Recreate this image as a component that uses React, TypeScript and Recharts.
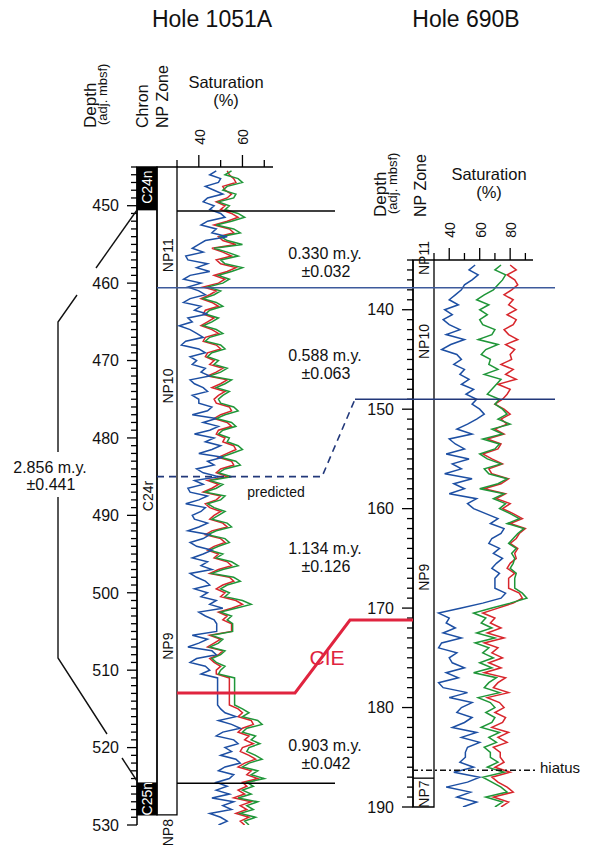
import React from "react";
import { LineChart, Line, XAxis, YAxis, ReferenceArea, ReferenceLine } from "recharts";

const FONT = "'Liberation Sans', Arial, Helvetica, sans-serif";
const BLUE = "#1d4fa3";
const GREEN = "#1f9638";
const RED = "#d8262c";

// Hole 1051A saturation (%), one sample every 0.5 m from 445.5 to 530 mbsf
const L_DEPTH_START = 445.5;
const L_STEP = 0.5;
const L_BLUE = [
  48, 45, 50, 49, 43, 47, 51, 44, 42, 47,
  45, 50, 52, 44, 41, 48, 46, 53, 43, 40,
  37, 42, 34, 35, 44, 39, 45, 36, 33, 41,
  35, 40, 43, 36, 33, 41, 38, 44, 35, 37,
  31, 36, 39, 42, 34, 32, 40, 43, 36, 39,
  37, 43, 41, 45, 36, 38, 42, 44, 37, 40,
  40, 46, 44, 37, 48, 42, 49, 45, 38, 47,
  43, 50, 46, 40, 51, 44, 47, 39, 42, 49,
  38, 42, 35, 36, 44, 40, 34, 43, 41, 37,
  38, 44, 40, 35, 45, 42, 36, 39, 46, 42,
  37, 44, 41, 46, 36, 39, 43, 45, 38, 44,
  41, 48, 45, 51, 40, 43, 47, 48.2, 48.2, 48.2,
  37, 44, 40, 35, 46, 48, 39, 36, 43, 45,
  41, 48.6, 48.6, 48.6, 48.6, 48.6, 48.6, 48.6, 48.6, 50,
  52, 57, 49, 55, 59, 51, 48, 56, 58, 52,
  55, 50, 57, 59, 52, 49, 56, 54, 48, 53,
  48, 54, 46, 56, 51, 55, 45, 50, 53, 49,
];
const L_GREEN = [
  55, 52, 58, 60, 53, 51, 57, 56, 49, 54,
  52, 58, 61, 55, 48, 56, 59, 50, 53, 60,
  47, 53, 58, 50, 52, 60, 55, 49, 54, 51,
  44, 50, 47, 42, 48, 51, 45, 43, 49, 46,
  42, 48, 51, 45, 43, 50, 52, 46, 44, 49,
  47, 53, 50, 45, 55, 52, 48, 54, 51, 49,
  50, 56, 58, 52, 48, 55, 57, 51, 49, 54,
  53, 58, 60, 55, 50, 57, 59, 52, 49, 55,
  45, 51, 48, 43, 52, 50, 44, 47, 52, 49,
  46, 53, 55, 48, 44, 52, 54, 49, 45, 51,
  48, 55, 58, 51, 46, 56, 59, 53, 50, 54,
  52, 60, 64, 57, 50, 55, 53, 55.5, 55.5, 55.5,
  46, 51, 49, 45, 52, 50, 46, 48, 52, 50,
  49, 56.4, 56.4, 56.4, 56.4, 56.4, 56.4, 56.4, 56.4, 60,
  63, 60, 67, 69, 62, 60, 66, 64, 68, 63,
  62, 66, 69, 63, 60, 67, 64, 70, 62, 65,
  60, 64, 58, 67, 62, 65, 59, 66, 61, 63,
];
const L_RED = [
  53, 54, 56, 57, 51, 52, 55, 53, 48, 52,
  50, 55, 58, 53, 47, 54, 56, 49, 51, 57,
  46, 51, 55, 48, 50, 57, 53, 47, 52, 49,
  42, 48, 45, 41, 46, 49, 43, 42, 47, 44,
  41, 46, 49, 43, 42, 48, 50, 44, 43, 47,
  45, 51, 48, 44, 53, 50, 46, 52, 49, 47,
  48, 54, 55, 50, 47, 53, 55, 49, 48, 52,
  51, 56, 57, 53, 49, 55, 56, 50, 48, 53,
  44, 49, 46, 42, 50, 48, 43, 45, 50, 47,
  45, 51, 53, 46, 43, 50, 52, 47, 44, 49,
  47, 53, 55, 49, 45, 54, 56, 51, 48, 52,
  50, 57, 60, 55, 49, 53, 51, 55, 55, 55,
  45, 50, 47, 44, 51, 49, 45, 47, 50, 48,
  48, 54, 54, 54, 54, 54, 54, 54, 54, 58,
  60, 58, 64, 65, 60, 58, 63, 61, 65, 60,
  59, 63, 66, 61, 58, 64, 62, 67, 60, 62,
  58, 61, 56, 64, 59, 62, 57, 63, 59, 61,
];

// Hole 690B saturation (%), one sample every 0.5 m from 135.5 to 190 mbsf
const R_DEPTH_START = 135.5;
const R_STEP = 0.5;
const R_BLUE = [
  57, 53, 59, 55, 50, 48, 44, 40, 46, 37,
  42, 36, 40, 47, 38, 50, 41, 35, 45, 48,
  43, 50, 47, 53, 48, 56, 51, 58, 55, 60,
  63, 58, 52, 45, 55, 40, 44, 50, 38, 53,
  42, 48, 37, 55, 43, 50, 40, 58, 52, 56,
  64, 72, 67, 76, 74, 68, 66, 73, 69, 75,
  71, 68, 73, 70, 70, 70, 77, 74, 62, 48,
  33, 40, 38, 44, 36, 48, 35, 33, 45, 40,
  42, 50, 38, 46, 33, 36, 52, 40, 55, 48,
  45, 55, 50, 42, 58, 48, 60, 52, 50.6, 50.6,
  47, 56, 43, 60, 52, 38, 54, 45, 58, 49,
];
const R_GREEN = [
  74, 70, 77, 75, 72, 69, 63, 58, 66, 60,
  65, 60, 62, 70, 68, 59, 72, 64, 61, 67,
  66, 72, 63, 74, 71, 68, 65, 73, 70, 75,
  78, 72, 80, 68, 75, 62, 73, 70, 60, 65,
  74, 63, 66, 78, 72, 60, 76, 69, 77, 73,
  80, 86, 78, 89, 85, 82, 79, 84, 81, 83,
  82, 80, 84, 83, 83, 83, 88, 91, 80, 68,
  56, 64, 61, 68, 58, 70, 57, 66, 62, 69,
  60, 68, 56, 71, 66, 63, 73, 59, 67, 70,
  64, 70, 68, 61, 73, 66, 71, 63, 67, 67,
  72, 65, 76, 62, 68, 74, 78, 64, 75, 70,
];
const R_RED = [
  80, 84, 78, 83, 85, 81, 76, 82, 79, 84,
  78, 84, 82, 76, 79, 85, 77, 83, 80, 81,
  74, 82, 77, 84, 72, 80, 78, 75, 70, 76,
  80, 74, 78, 70, 76, 65, 74, 72, 62, 68,
  75, 66, 68, 79, 74, 63, 77, 71, 80, 75,
  82, 88, 80, 90, 86, 84, 80, 85, 83, 84,
  80, 78, 83, 79, 79, 79, 86, 88, 82, 72,
  62, 70, 67, 74, 65, 76, 63, 72, 68, 75,
  66, 74, 63, 77, 72, 69, 79, 65, 73, 76,
  70, 77, 75, 68, 79, 72, 78, 69, 73.5, 73.5,
  76, 70, 80, 68, 72, 78, 82, 69, 79, 74,
];

const L_SAT_TICKS = [30, 40, 50, 60, 70];
const L_SAT_LABELS = [40, 60];
const R_SAT_TICKS = [30, 40, 50, 60, 70, 80, 90];
const R_SAT_LABELS = [40, 60, 80];

const L_DEPTH = [445, 530];
const R_DEPTH = [135, 190];
const L_DEPTH_TICKS: number[] = [];
for (let d = L_DEPTH[0]; d <= L_DEPTH[1]; d++) L_DEPTH_TICKS.push(d);
const R_DEPTH_TICKS: number[] = [];
for (let d = R_DEPTH[0]; d <= R_DEPTH[1]; d++) R_DEPTH_TICKS.push(d);

// layout (pixels on the page)
const L_PLOT = { left: 137, satLeft: 177, right: 273, top: 167, bottom: 825 };
const R_PLOT = { left: 413, satLeft: 434, right: 533, top: 260, bottom: 807 };
const L_SAT = [30, 74];
const R_SAT = [30, 95];
const AXIS_H = 47;
const L_YW = 80;
const R_YW = 60;

const lx = (px: number) => L_SAT[0] + ((px - L_PLOT.satLeft) * (L_SAT[1] - L_SAT[0])) / (L_PLOT.right - L_PLOT.satLeft);
const rx = (px: number) => R_SAT[0] + ((px - R_PLOT.satLeft) * (R_SAT[1] - R_SAT[0])) / (R_PLOT.right - R_PLOT.satLeft);
const yL = (d: number) => L_PLOT.top + ((d - L_DEPTH[0]) * (L_PLOT.bottom - L_PLOT.top)) / (L_DEPTH[1] - L_DEPTH[0]);
const yR = (d: number) => R_PLOT.top + ((d - R_DEPTH[0]) * (R_PLOT.bottom - R_PLOT.top)) / (R_DEPTH[1] - R_DEPTH[0]);

const dataL = L_BLUE.map((b, i) => ({ depth: L_DEPTH_START + i * L_STEP, blue: b, green: L_GREEN[i], red: L_RED[i] }));
const dataR = R_BLUE.map((b, i) => ({ depth: R_DEPTH_START + i * R_STEP, blue: b, green: R_GREEN[i], red: R_RED[i] }));

function DepthTick(props: any) {
  const { x, y, payload, majorLen, minorLen } = props;
  const v = payload.value;
  const major = v % 10 === 0;
  return (
    <g>
      <line x1={x - (major ? majorLen : minorLen)} x2={x} y1={y} y2={y} stroke="#000" strokeWidth={1.3} />
      {major && (
        <text x={x - majorLen - 8} y={y} dy="0.36em" textAnchor="end" fontSize={16} fontFamily={FONT} fill="#111">
          {v}
        </text>
      )}
    </g>
  );
}

function SatTick(props: any) {
  const { x, y, payload, labels } = props;
  const v = payload.value;
  const major = labels.includes(v);
  return (
    <g>
      <line x1={x} x2={x} y1={y} y2={y - (major ? 12 : 7)} stroke="#000" strokeWidth={1.3} />
      {major && (
        <text
          transform={`translate(${x + 1},${y - 30}) rotate(-90)`}
          textAnchor="middle"
          dominantBaseline="central"
          fontSize={14}
          fontFamily={FONT}
          fill="#111"
        >
          {v}
        </text>
      )}
    </g>
  );
}

function VText({ x, y, children, size = 14, fill = "#111", anchor = "middle" }: any) {
  return (
    <text
      transform={`translate(${x},${y}) rotate(-90)`}
      textAnchor={anchor}
      dominantBaseline="central"
      fontSize={size}
      fontFamily={FONT}
      fill={fill}
    >
      {children}
    </text>
  );
}

function T({ x, y, children, size = 16, fill = "#111", anchor = "middle" }: any) {
  return (
    <text x={x} y={y} dy="0.36em" textAnchor={anchor} fontSize={size} fontFamily={FONT} fill={fill}>
      {children}
    </text>
  );
}

function traces() {
  return [
    <Line key="r" dataKey="red" stroke={RED} strokeWidth={1.5} dot={false} isAnimationActive={false} />,
    <Line key="g" dataKey="green" stroke={GREEN} strokeWidth={1.5} dot={false} isAnimationActive={false} />,
    <Line key="b" dataKey="blue" stroke={BLUE} strokeWidth={1.5} dot={false} isAnimationActive={false} />,
  ];
}

export default function App() {
  const lTop = L_PLOT.top - AXIS_H;
  const rTop = R_PLOT.top - AXIS_H;
  return (
    <div style={{ position: "absolute", left: 0, top: 0, width: 595, height: 853, background: "#fff", fontFamily: FONT }}>
      {/* Hole 1051A */}
      <div style={{ position: "absolute", left: L_PLOT.left - L_YW, top: lTop }}>
        <LineChart
          layout="vertical"
          width={L_YW + L_PLOT.right - L_PLOT.left}
          height={L_PLOT.bottom - lTop + 30}
          data={dataL}
          margin={{ top: 0, right: 0, bottom: 30, left: 0 }}
        >
          <XAxis
            type="number"
            orientation="top"
            domain={[lx(L_PLOT.left), L_SAT[1]]}
            ticks={L_SAT_TICKS}
            interval={0}
            height={AXIS_H}
            axisLine={false}
            tickLine={false}
            tickSize={0}
            tickMargin={0}
            allowDataOverflow
            tick={<SatTick labels={L_SAT_LABELS} />}
          />
          <YAxis
            type="number"
            dataKey="depth"
            domain={L_DEPTH}
            ticks={L_DEPTH_TICKS}
            interval={0}
            width={L_YW}
            tickSize={0}
            tickMargin={0}
            tickLine={false}
            axisLine={{ stroke: "#000", strokeWidth: 1.5 }}
            allowDataOverflow
            tick={<DepthTick majorLen={10} minorLen={6} />}
          />
          <ReferenceArea x1={lx(L_PLOT.left)} x2={lx(157)} y1={445} y2={528.7} fill="none" stroke="#000" strokeWidth={1.3} ifOverflow="visible" />
          <ReferenceArea x1={lx(L_PLOT.left)} x2={lx(157)} y1={445} y2={450.6} fill="#000" fillOpacity={1} ifOverflow="visible" />
          <ReferenceArea x1={lx(L_PLOT.left)} x2={lx(157)} y1={524.5} y2={528.7} fill="#000" fillOpacity={1} ifOverflow="visible" />
          <ReferenceArea x1={lx(157)} x2={L_SAT[0]} y1={445} y2={528.7} fill="none" stroke="#000" strokeWidth={1.3} ifOverflow="visible" />
          <ReferenceLine segment={[{ x: L_SAT[0], y: 445 }, { x: L_SAT[1], y: 445 }]} stroke="#000" strokeWidth={1.5} ifOverflow="visible" />
          {traces()}
        </LineChart>
      </div>

      {/* Hole 690B */}
      <div style={{ position: "absolute", left: R_PLOT.left - R_YW, top: rTop }}>
        <LineChart
          layout="vertical"
          width={R_YW + R_PLOT.right - R_PLOT.left}
          height={R_PLOT.bottom - rTop + 30}
          data={dataR}
          margin={{ top: 0, right: 0, bottom: 30, left: 0 }}
        >
          <XAxis
            type="number"
            orientation="top"
            domain={[rx(R_PLOT.left), R_SAT[1]]}
            ticks={R_SAT_TICKS}
            interval={0}
            height={AXIS_H}
            axisLine={false}
            tickLine={false}
            tickSize={0}
            tickMargin={0}
            allowDataOverflow
            tick={<SatTick labels={R_SAT_LABELS} />}
          />
          <YAxis
            type="number"
            dataKey="depth"
            domain={R_DEPTH}
            ticks={R_DEPTH_TICKS}
            interval={0}
            width={R_YW}
            tickSize={0}
            tickMargin={0}
            tickLine={false}
            axisLine={{ stroke: "#000", strokeWidth: 1.5 }}
            allowDataOverflow
            tick={<DepthTick majorLen={11} minorLen={6} />}
          />
          <ReferenceArea x1={rx(R_PLOT.left)} x2={R_SAT[0]} y1={135} y2={190} fill="none" stroke="#000" strokeWidth={1.3} ifOverflow="visible" />
          <ReferenceLine segment={[{ x: rx(R_PLOT.left), y: 187.1 }, { x: R_SAT[0], y: 187.1 }]} stroke="#000" strokeWidth={1.3} ifOverflow="visible" />
          <ReferenceLine segment={[{ x: R_SAT[0], y: 135 }, { x: R_SAT[1], y: 135 }]} stroke="#000" strokeWidth={1.5} ifOverflow="visible" />
          {traces()}
        </LineChart>
      </div>

      {/* annotations */}
      <svg width={595} height={853} style={{ position: "absolute", left: 0, top: 0, pointerEvents: "none" }}>
        <T x={212} y={19} size={23}>Hole 1051A</T>
        <T x={466} y={19} size={23}>Hole 690B</T>

        <VText x={90} y={128} size={17} anchor="start">Depth</VText>
        <VText x={102} y={125} size={13} anchor="start">(adj. mbsf)</VText>
        <VText x={142} y={128} size={16} anchor="start">Chron</VText>
        <VText x={162} y={128} size={16} anchor="start">NP Zone</VText>
        <T x={226} y={82} size={16.5}>Saturation</T>
        <T x={226} y={100} size={16.5}>(%)</T>

        <VText x={380} y={217} size={17} anchor="start">Depth</VText>
        <VText x={392} y={214} size={13} anchor="start">(adj. mbsf)</VText>
        <VText x={420} y={217} size={16} anchor="start">NP Zone</VText>
        <T x={489} y={174} size={16.5}>Saturation</T>
        <T x={489} y={192} size={16.5}>(%)</T>

        {/* zone labels */}
        <VText x={147} y={yL(447.6)} fill="#fff">C24n</VText>
        <VText x={148} y={yL(487.5)}>C24r</VText>
        <VText x={147} y={yL(526.6)} fill="#fff">C25n</VText>
        <VText x={168} y={yL(456.4)}>NP11</VText>
        <VText x={168} y={yL(473.3)}>NP10</VText>
        <VText x={168} y={yL(506.9)}>NP9</VText>
        <VText x={168} y={yL(528.8) + 17}>NP8</VText>
        <VText x={424} y={yR(134.8)}>NP11</VText>
        <VText x={424} y={yR(143.2)}>NP10</VText>
        <VText x={424} y={yR(166.9)}>NP9</VText>
        <VText x={424} y={yR(188.7)}>NP7</VText>

        {/* 2.856 m.y. bracket */}
        <polyline points="137,210 96,268" fill="none" stroke="#111" strokeWidth={1.4} />
        <polyline points="77,295 58,322 58,452" fill="none" stroke="#111" strokeWidth={1.4} />
        <polyline points="58,497 58,658 107,734" fill="none" stroke="#111" strokeWidth={1.4} />
        <polyline points="122,758 137,781" fill="none" stroke="#111" strokeWidth={1.4} />
        <T x={50} y={467}>2.856 m.y.</T>
        <T x={51} y={484}>±0.441</T>

        {/* correlation lines */}
        <line x1={L_PLOT.satLeft} x2={335} y1={yL(450.7)} y2={yL(450.7)} stroke="#000" strokeWidth={1.5} />
        <line x1={L_PLOT.satLeft} x2={335} y1={yL(524.6)} y2={yL(524.6)} stroke="#000" strokeWidth={1.5} />
        <line x1={157} x2={555} y1={yL(460.6)} y2={yL(460.6)} stroke="#3d5a9c" strokeWidth={1.5} />
        <polyline
          points={`157,${yL(485)} 322,${yL(485)} 355,${yR(149)}`}
          fill="none"
          stroke="#22387a"
          strokeWidth={1.6}
          strokeDasharray="7 5"
        />
        <line x1={355} x2={555} y1={yR(149)} y2={yR(149)} stroke="#22387a" strokeWidth={1.6} />
        <polyline
          points={`${L_PLOT.satLeft},${yL(512.95)} 295,${yL(512.95)} 350,${yR(171.2)} ${R_PLOT.left},${yR(171.2)}`}
          fill="none"
          stroke="#e0243f"
          strokeWidth={3}
        />
        <line x1={412} x2={535} y1={yR(186.3)} y2={yR(186.3)} stroke="#111" strokeWidth={1.4} strokeDasharray="6 3 2 3" />

        <T x={325} y={253}>0.330 m.y.</T>
        <T x={326} y={271}>±0.032</T>
        <T x={325} y={355}>0.588 m.y.</T>
        <T x={326} y={373}>±0.063</T>
        <T x={325} y={548}>1.134 m.y.</T>
        <T x={326} y={566}>±0.126</T>
        <T x={325} y={745}>0.903 m.y.</T>
        <T x={326} y={763}>±0.042</T>
        <T x={276} y={492} size={14}>predicted</T>
        <T x={327} y={657} size={21} fill="#e0243f">CIE</T>
        <T x={540} y={768} size={15} anchor="start">hiatus</T>
      </svg>
    </div>
  );
}
